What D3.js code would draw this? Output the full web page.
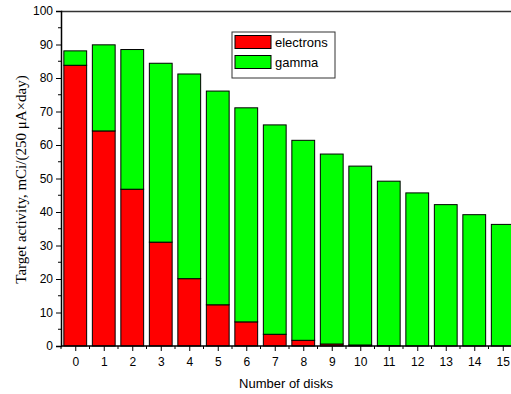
<!DOCTYPE html>
<html>
<head>
<meta charset="utf-8">
<script src="https://cdn.jsdelivr.net/npm/d3@7"></script>
<style>
  body { margin: 0; background: #fff; }
</style>
</head>
<body>
<svg id="chart" width="511" height="394"></svg>
<script>
// data
var disks     = [0, 1, 2, 3, 4, 5, 6, 7, 8, 9, 10, 11, 12, 13, 14, 15];
var electrons = [83.8, 64.2, 46.8, 31.0, 20.1, 12.3, 7.2, 3.5, 1.7, 0.6, 0.3, 0.1, 0, 0, 0, 0];
var gamma     = [4.3, 25.7, 41.7, 53.4, 61.1, 63.8, 63.9, 62.5, 59.7, 56.7, 53.4, 49.1, 45.7, 42.2, 39.2, 36.3];
var yTicks    = [0, 10, 20, 30, 40, 50, 60, 70, 80, 90, 100];
var series    = [{name: "electrons", color: "#ff0000"}, {name: "gamma", color: "#00ff00"}];

var svg = d3.select("#chart");
var plotL = 61, plotR = 517, plotT = 11, plotB = 346;

var x = d3.scaleLinear().domain([-0.5, 15.5]).range([plotL, plotR]);
var y = d3.scaleLinear().domain([0, 100]).range([plotB, plotT]);
var barW = (x(1) - x(0)) * 0.8;

var rows = disks.map(function(d, i){
    return {disk: d, electrons: electrons[i], gamma: gamma[i]};
});
var stack = d3.stack().keys(["electrons", "gamma"])(rows);

// bars
var g_bars = svg.append("g");
stack.forEach(function(layer, k){
    g_bars.append("g").selectAll("rect")
        .data(layer)
        .enter().append("rect")
        .attr("x", function(d){ return x(d.data.disk) - barW/2; })
        .attr("y", function(d){ return y(d[1]); })
        .attr("width", barW)
        .attr("height", function(d){ return Math.max(0, y(d[0]) - y(d[1])); })
        .attr("fill", series[k].color)
        .attr("stroke", "#000")
        .attr("stroke-width", function(d){ return (d[1] - d[0]) > 0 ? 1 : 0; });
});

// frame line on top
svg.append("line")
    .attr("x1", plotL).attr("x2", 511)
    .attr("y1", plotT + 0.5).attr("y2", plotT + 0.5)
    .attr("stroke", "#333").attr("stroke-width", 1.5);

// left axis
var yAxis = svg.append("g")
    .attr("transform", "translate(" + plotL + ",0)")
    .call(d3.axisLeft(y).tickValues(yTicks).tickSize(5).tickPadding(3));
yAxis.append("g").selectAll("line")
    .data(d3.range(5, 100, 10))
    .enter().append("line")
    .attr("x1", 0).attr("x2", -3)
    .attr("y1", function(d){ return y(d); }).attr("y2", function(d){ return y(d); })
    .attr("stroke", "#000");

// bottom axis
var xAxis = svg.append("g")
    .attr("transform", "translate(0," + plotB + ")")
    .call(d3.axisBottom(x).tickValues(disks).tickFormat(d3.format("d")).tickSize(5).tickPadding(6));
xAxis.append("g").selectAll("line")
    .data(d3.range(-0.5, 15.6, 1))
    .enter().append("line")
    .attr("x1", function(d){ return x(d); }).attr("x2", function(d){ return x(d); })
    .attr("y1", 0).attr("y2", 3)
    .attr("stroke", "#000");

[yAxis, xAxis].forEach(function(a){
    a.select(".domain").attr("stroke", "#000").attr("stroke-width", 1.5);
    a.selectAll(".tick line").attr("stroke", "#000");
    a.selectAll("text")
        .attr("font-family", "Arial, 'Liberation Sans', sans-serif")
        .attr("font-size", "12px")
        .attr("fill", "#000");
});
xAxis.select(".domain").attr("d", "M" + plotL + ",0H511");

// axis titles
svg.append("text")
    .attr("font-family", "'Liberation Serif', 'Times New Roman', serif")
    .attr("font-size", "15px")
    .attr("text-anchor", "middle")
    .attr("transform", "translate(26," + ((plotT + plotB) / 2 + 1) + ") rotate(-90)")
    .text("Target activity, mCi/(250 \u03bcA\u00d7day)");

svg.append("text")
    .attr("font-family", "Arial, 'Liberation Sans', sans-serif")
    .attr("font-size", "13px")
    .attr("text-anchor", "middle")
    .attr("x", 286).attr("y", 388)
    .text("Number of disks");

// legend
var lg = svg.append("g").attr("transform", "translate(232,32)");
lg.append("rect")
    .attr("width", 103).attr("height", 46)
    .attr("fill", "#fff").attr("stroke", "#333").attr("stroke-width", 1);
series.forEach(function(s, i){
    lg.append("rect")
        .attr("x", 3).attr("y", 3.5 + i * 20)
        .attr("width", 36).attr("height", 13)
        .attr("fill", s.color).attr("stroke", "#000");
    lg.append("text")
        .attr("x", 43).attr("y", 15 + i * 20)
        .attr("font-family", "Arial, 'Liberation Sans', sans-serif")
        .attr("font-size", "13px")
        .text(s.name);
});
</script>
</body>
</html>
